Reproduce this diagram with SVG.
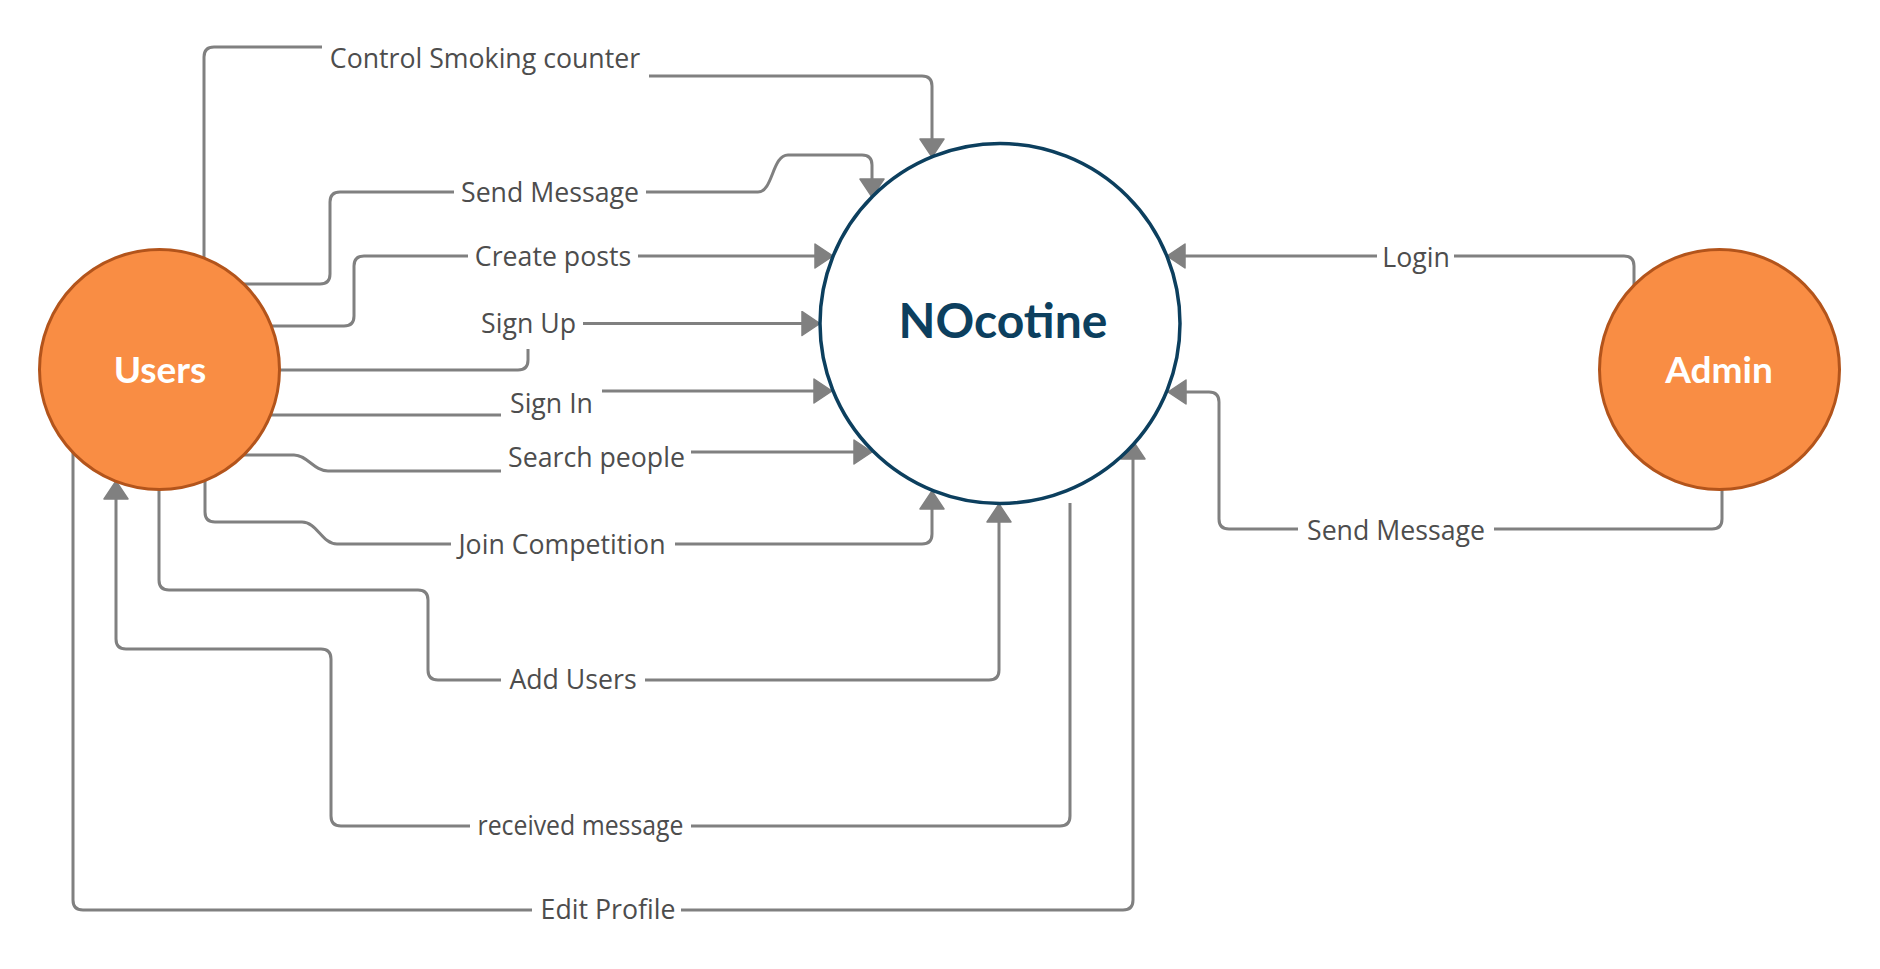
<svg xmlns="http://www.w3.org/2000/svg" width="1880" height="969" viewBox="0 0 1880 969">
<style>
.c{fill:none;stroke:#808080;stroke-width:3;}
.a{marker-end:url(#arr);}
.lbl{font-family:"Open Sans","Noto Sans","Liberation Sans",sans-serif;font-size:26.7px;fill:#4d4d4d;text-anchor:middle;}
.ext{fill:#F98D44;stroke:#B3541B;stroke-width:3;}
.proc{fill:#ffffff;stroke:#0C3F5E;stroke-width:3.5;}
.nt{font-family:Lato,"Open Sans",sans-serif;font-weight:bold;text-anchor:middle;}
</style>
<defs>
<marker id="arr" viewBox="0 0 20 26" refX="13" refY="13" markerWidth="20" markerHeight="26" markerUnits="userSpaceOnUse" orient="auto">
<path d="M1,1 L19,13 L1,25 Z" fill="#808080" stroke="#808080" stroke-width="1.5" stroke-linejoin="round"/>
</marker>
</defs>
<rect width="1880" height="969" fill="#ffffff"/>
<g id="connectors">
<path class="c" d="M204,265 V57 Q204,47 214,47 H322"/>
<path class="c a" d="M649,76 H922 Q932,76 932,86 V151"/>
<path class="c" d="M238,284 H320 Q330,284 330,274 V202 Q330,192 340,192 H454"/>
<path class="c a" d="M646,192 H758 C773,192 772,155 788,155 H862 Q872,155 872,165 V191"/>
<path class="c" d="M262,326 H344 Q354,326 354,316 V266 Q354,256 364,256 H468"/>
<path class="c a" d="M638,256 H827"/>
<path class="c" d="M272,370 H518 Q528,370 528,360 V349"/>
<path class="c a" d="M583,323.5 H814"/>
<path class="c" d="M262,415 H501"/>
<path class="c a" d="M602,391 H826"/>
<path class="c" d="M236,455 H294 C307,455 314,471 328,471 H501"/>
<path class="c a" d="M691,452 H866"/>
<path class="c" d="M205,470 V512 Q205,522 215,522 H302 C317,522 322,544 337,544 H451"/>
<path class="c a" d="M675,544 H922 Q932,544 932,534 V497"/>
<path class="c" d="M159,480 V580 Q159,590 169,590 H418 Q428,590 428,600 V670 Q428,680 438,680 H501"/>
<path class="c a" d="M645,680 H989 Q999,680 999,670 V510"/>
<path class="c" d="M1070,503 V816 Q1070,826 1060,826 H691"/>
<path class="c a" d="M470,826 H341 Q331,826 331,816 V659 Q331,649 321,649 H126 Q116,649 116,639 V487"/>
<path class="c" d="M73,452 V900 Q73,910 83,910 H532"/>
<path class="c a" d="M681,910 H1123 Q1133,910 1133,900 V447"/>
<path class="c" d="M1634,290 V266 Q1634,256 1624,256 H1454"/>
<path class="c a" d="M1377,256 H1173"/>
<path class="c" d="M1722,489 V519 Q1722,529 1712,529 H1494"/>
<path class="c a" d="M1298,529 H1229 Q1219,529 1219,519 V402 Q1219,392 1209,392 H1174"/>
<text class="lbl" x="485" y="67.7">Control Smoking counter</text>
<text class="lbl" x="550" y="201.5">Send Message</text>
<text class="lbl" x="553" y="266">Create posts</text>
<text class="lbl" x="528.5" y="333">Sign Up</text>
<text class="lbl" x="551.5" y="413">Sign In</text>
<text class="lbl" x="596.5" y="467">Search people</text>
<text class="lbl" x="562" y="554">Join Competition</text>
<text class="lbl" x="573" y="689">Add Users</text>
<text class="lbl" x="580.5" y="835" textLength="206" lengthAdjust="spacingAndGlyphs">received message</text>
<text class="lbl" x="608" y="919">Edit Profile</text>
<text class="lbl" x="1416" y="266.5">Login</text>
<text class="lbl" x="1396" y="539.5">Send Message</text>
</g>
<g id="users">
<circle class="ext" cx="159.5" cy="369.5" r="120"/>
<text class="nt" x="160" y="383" font-size="37" fill="#ffffff">Users</text>
</g>
<g id="nocotine">
<circle class="proc" cx="1000" cy="323.5" r="180"/>
<text class="nt" x="1003" y="338" font-size="48" fill="#0C3F5E">NOcotine</text>
</g>
<g id="admin">
<circle class="ext" cx="1719.5" cy="369.5" r="120"/>
<text class="nt" x="1719" y="383" font-size="37" fill="#ffffff">Admin</text>
</g>
</svg>
